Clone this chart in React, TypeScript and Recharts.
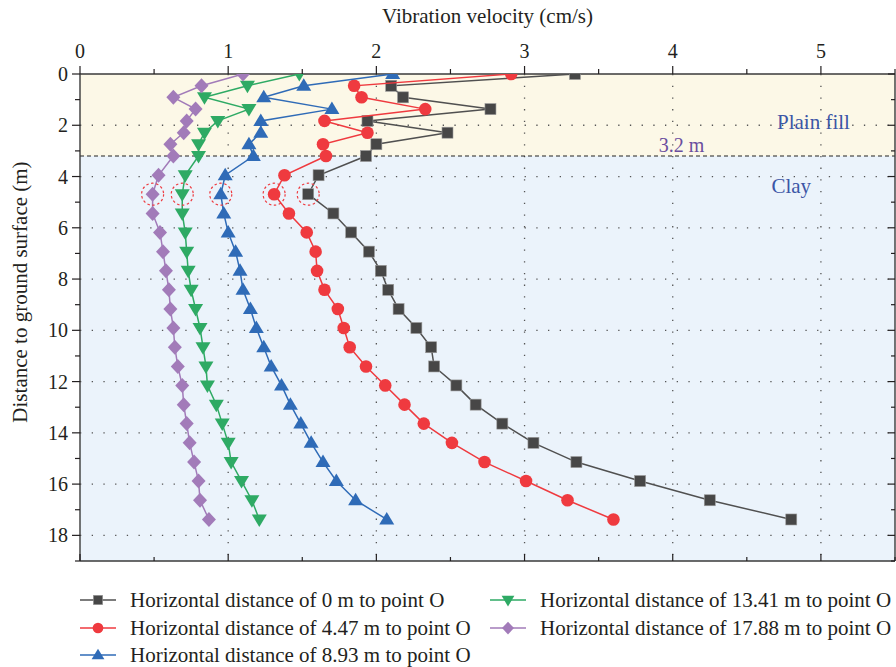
import {
  ReferenceArea,
  ReferenceDot,
  ReferenceLine,
  Scatter,
  ScatterChart,
  XAxis,
  YAxis,
} from "recharts";

// depth of each measuring point (m)
const depths = [
  0, 0.46, 0.91, 1.37, 1.83, 2.29, 2.74, 3.2, 3.95, 4.69, 5.44, 6.18, 6.93, 7.68, 8.42, 9.17, 9.91,
  10.66, 11.41, 12.15, 12.9, 13.64, 14.39, 15.14, 15.88, 16.63, 17.38,
];

// vibration velocity (cm/s) at each depth
const dist0 = [
  3.34, 2.1, 2.18, 2.77, 1.94, 2.48, 2.0, 1.93, 1.61, 1.54, 1.71, 1.83, 1.95, 2.03, 2.08, 2.15, 2.27,
  2.37, 2.39, 2.54, 2.67, 2.85, 3.06, 3.35, 3.78, 4.25, 4.8,
];
const dist447 = [
  2.91, 1.85, 1.9, 2.33, 1.65, 1.94, 1.64, 1.66, 1.38, 1.31, 1.41, 1.53, 1.59, 1.6, 1.65, 1.74, 1.78,
  1.82, 1.93, 2.06, 2.19, 2.32, 2.51, 2.73, 3.01, 3.29, 3.6,
];
const dist893 = [
  2.11, 1.51, 1.24, 1.7, 1.22, 1.22, 1.14, 1.17, 0.98, 0.95, 0.97, 1.0, 1.05, 1.08, 1.1, 1.15, 1.19,
  1.24, 1.29, 1.36, 1.42, 1.49, 1.56, 1.64, 1.73, 1.86, 2.07,
];
const dist1341 = [
  1.48, 1.13, 0.84, 1.14, 0.93, 0.84, 0.8, 0.8, 0.71, 0.69, 0.69, 0.71, 0.72, 0.73, 0.75, 0.78, 0.81,
  0.83, 0.85, 0.86, 0.92, 0.96, 1.0, 1.02, 1.09, 1.16, 1.21,
];
const dist1788 = [
  1.1, 0.82, 0.63, 0.78, 0.72, 0.7, 0.61, 0.63, 0.53, 0.49, 0.49, 0.54, 0.56, 0.58, 0.6, 0.61, 0.63,
  0.64, 0.66, 0.69, 0.7, 0.72, 0.74, 0.77, 0.8, 0.81, 0.87,
];

const xTicks = [0, 0.5, 1, 1.5, 2, 2.5, 3, 3.5, 4, 4.5, 5, 5.5];
const yTicks = [0, 1, 2, 3, 4, 5, 6, 7, 8, 9, 10, 11, 12, 13, 14, 15, 16, 17, 18, 19];
const xGrid = [1, 2, 3, 4, 5];
const yGrid = [2, 4, 6, 8, 10, 12, 14, 16, 18];

const layerDepth = 3.2;
const highlightIndex = 9;

const FONT = "'Liberation Serif', 'DejaVu Serif', serif";
const INK = "#231f20";

type Marker = "square" | "circle" | "up" | "down" | "diamond";

const series: Array<{ name: string; values: number[]; color: string; fill: string; marker: Marker }> = [
  { name: "Horizontal distance of 0 m to point O", values: dist0, color: "#505050", fill: "#474747", marker: "square" },
  { name: "Horizontal distance of 4.47 m to point O", values: dist447, color: "#ef3a3f", fill: "#ef3a3f", marker: "circle" },
  { name: "Horizontal distance of 8.93 m to point O", values: dist893, color: "#2f6bb7", fill: "#2f6bb7", marker: "up" },
  { name: "Horizontal distance of 13.41 m to point O", values: dist1341, color: "#2eaa64", fill: "#2eaa64", marker: "down" },
  { name: "Horizontal distance of 17.88 m to point O", values: dist1788, color: "#a27bb9", fill: "#a27bb9", marker: "diamond" },
];

function drawMarker(marker: Marker, cx: number, cy: number, fill: string, scale = 1) {
  const s = scale;
  switch (marker) {
    case "square":
      return <rect x={cx - 5.5 * s} y={cy - 5.5 * s} width={11 * s} height={11 * s} fill={fill} stroke="#9a9a9a" strokeWidth={0.6} />;
    case "circle":
      return <circle cx={cx} cy={cy} r={6.3 * s} fill={fill} />;
    case "up":
      return <polygon points={`${cx},${cy - 7.5 * s} ${cx - 7.5 * s},${cy + 5 * s} ${cx + 7.5 * s},${cy + 5 * s}`} fill={fill} />;
    case "down":
      return <polygon points={`${cx},${cy + 7.5 * s} ${cx - 7.5 * s},${cy - 5 * s} ${cx + 7.5 * s},${cy - 5 * s}`} fill={fill} />;
    default:
      return <polygon points={`${cx},${cy - 7.5 * s} ${cx + 7 * s},${cy} ${cx},${cy + 7.5 * s} ${cx - 7 * s},${cy}`} fill={fill} />;
  }
}

function AxisTick(props: any) {
  const { x, y, payload, side } = props;
  const v = payload.value as number;
  if (side === "top") {
    const major = Number.isInteger(v);
    return (
      <g>
        <line x1={x} x2={x} y1={y} y2={y - (major ? 8 : 5)} stroke={INK} strokeWidth={1.2} />
        {major && (
          <text x={x} y={y - 16} textAnchor="middle" fontSize={20} fontFamily={FONT} fill={INK}>
            {v}
          </text>
        )}
      </g>
    );
  }
  if (side === "left") {
    const major = v % 2 === 0;
    return (
      <g>
        <line x1={x} x2={x - (major ? 8 : 5)} y1={y} y2={y} stroke={INK} strokeWidth={1.2} />
        {major && v <= 18 && (
          <text x={x - 12} y={y + 7} textAnchor="end" fontSize={20} fontFamily={FONT} fill={INK}>
            {v}
          </text>
        )}
      </g>
    );
  }
  if (side === "bottom") {
    const major = Number.isInteger(v);
    return <line x1={x} x2={x} y1={y} y2={y - (major ? 7 : 4)} stroke={INK} strokeWidth={1.2} />;
  }
  const major = v % 2 === 0;
  return <line x1={x} x2={x - (major ? 7 : 4)} y1={y} y2={y} stroke={INK} strokeWidth={1.2} />;
}

const axisLine = { stroke: "#3a3a3a", strokeWidth: 1.4 };

function ProfileChart() {
  return (
    <ScatterChart width={896} height={575} margin={{ top: 0, right: 0, bottom: 13, left: 0 }}>
      <XAxis
        xAxisId="top"
        orientation="top"
        type="number"
        dataKey="v"
        domain={[0, 5.5]}
        ticks={xTicks}
        allowDataOverflow
        height={74}
        tickSize={0}
        tickMargin={0}
        tickLine={false}
        axisLine={axisLine}
        interval={0}
        tick={(p: any) => <AxisTick {...p} side="top" />}
        label={{ value: "Vibration velocity (cm/s)", position: "insideTop", offset: 8, fontSize: 21, fontFamily: FONT, fill: INK }}
      />
      <XAxis
        xAxisId="bottom"
        orientation="bottom"
        type="number"
        dataKey="v"
        domain={[0, 5.5]}
        ticks={xTicks}
        allowDataOverflow
        height={1}
        tickSize={0}
        tickMargin={0}
        tickLine={false}
        axisLine={axisLine}
        interval={0}
        tick={(p: any) => <AxisTick {...p} side="bottom" />}
      />
      <YAxis
        yAxisId="left"
        type="number"
        dataKey="d"
        reversed
        domain={[0, 19]}
        ticks={yTicks}
        allowDataOverflow
        width={80}
        tickSize={0}
        tickMargin={0}
        tickLine={false}
        axisLine={axisLine}
        interval={0}
        tick={(p: any) => <AxisTick {...p} side="left" />}
        label={{
          content: () => (
            <text x={27} y={292} transform="rotate(-90 27 292)" textAnchor="middle" fontSize={21} fontFamily={FONT} fill={INK}>
              Distance to ground surface (m)
            </text>
          ),
        }}
      />
      <YAxis
        yAxisId="right"
        orientation="right"
        type="number"
        dataKey="d"
        reversed
        domain={[0, 19]}
        ticks={yTicks}
        allowDataOverflow
        width={1}
        tickSize={0}
        tickMargin={0}
        tickLine={false}
        axisLine={axisLine}
        interval={0}
        tick={(p: any) => <AxisTick {...p} side="right" />}
      />

      <ReferenceArea xAxisId="top" yAxisId="left" x1={0} x2={5.5} y1={0} y2={layerDepth} fill="#fcf8e7" fillOpacity={1} stroke="none" />
      <ReferenceArea xAxisId="top" yAxisId="left" x1={0} x2={5.5} y1={layerDepth} y2={19} fill="#ebf3fb" fillOpacity={1} stroke="none" />

      {xGrid.map((v) => (
        <ReferenceLine key={`gx${v}`} xAxisId="top" yAxisId="left" x={v} stroke="#555" strokeWidth={1.3} strokeDasharray="1.3 10.4" />
      ))}
      {yGrid.map((v) => (
        <ReferenceLine key={`gy${v}`} xAxisId="top" yAxisId="left" y={v} stroke="#555" strokeWidth={1.3} strokeDasharray="1.3 10.4" />
      ))}
      <ReferenceLine xAxisId="top" yAxisId="left" y={layerDepth} stroke="#222" strokeWidth={1.2} strokeDasharray="4 3" />

      <ReferenceDot xAxisId="top" yAxisId="left" x={4.95} y={1.84} r={0} label={{ value: "Plain fill", position: "center", fontSize: 21, fontFamily: FONT, fill: "#3b56a6" }} />
      <ReferenceDot xAxisId="top" yAxisId="left" x={4.06} y={2.76} r={0} label={{ value: "3.2 m", position: "center", fontSize: 20, fontFamily: FONT, fill: "#6a4e9e" }} />
      <ReferenceDot xAxisId="top" yAxisId="left" x={4.8} y={4.34} r={0} label={{ value: "Clay", position: "center", fontSize: 21, fontFamily: FONT, fill: "#3b56a6" }} />

      {series.map((s) => (
        <Scatter
          key={s.name}
          name={s.name}
          xAxisId="top"
          yAxisId="left"
          data={depths.map((d, i) => ({ d, v: s.values[i] }))}
          line={{ stroke: s.color, strokeWidth: 1.5 }}
          lineJointType="linear"
          shape={(p: any) => drawMarker(s.marker, p.cx, p.cy, s.fill)}
          isAnimationActive={false}
        />
      ))}

      {series.map((s) => (
        <ReferenceDot
          key={`c${s.name}`}
          xAxisId="top"
          yAxisId="left"
          x={s.values[highlightIndex]}
          y={depths[highlightIndex]}
          r={11}
          fill="none"
          stroke="#ee3a3f"
          strokeWidth={1.2}
          strokeDasharray="2.5 2.5"
        />
      ))}
    </ScatterChart>
  );
}

function LegendIcon({ marker, color, fill }: { marker: Marker; color: string; fill: string }) {
  return (
    <svg width={36} height={16} style={{ display: "block" }}>
      <line x1={0} x2={36} y1={8} y2={8} stroke={color} strokeWidth={1.5} />
      {drawMarker(marker, 18, 8, fill, 0.85)}
    </svg>
  );
}

export default function App() {
  const rows = [
    { s: series[0], left: 80, top: 592 },
    { s: series[1], left: 80, top: 620 },
    { s: series[2], left: 80, top: 647 },
    { s: series[3], left: 490, top: 592 },
    { s: series[4], left: 490, top: 620 },
  ];
  return (
    <div style={{ position: "relative", width: 896, height: 667, background: "#fff" }}>
      <style>{"body{margin:0}"}</style>
      <ProfileChart />
      {rows.map(({ s, left, top }) => (
        <div
          key={s.name}
          style={{
            position: "absolute",
            left,
            top,
            height: 16,
            display: "flex",
            alignItems: "center",
            fontFamily: FONT,
            fontSize: 21,
            color: INK,
            whiteSpace: "nowrap",
          }}
        >
          <LegendIcon marker={s.marker} color={s.color} fill={s.fill} />
          <span style={{ marginLeft: 14 }}>{s.name}</span>
        </div>
      ))}
    </div>
  );
}
